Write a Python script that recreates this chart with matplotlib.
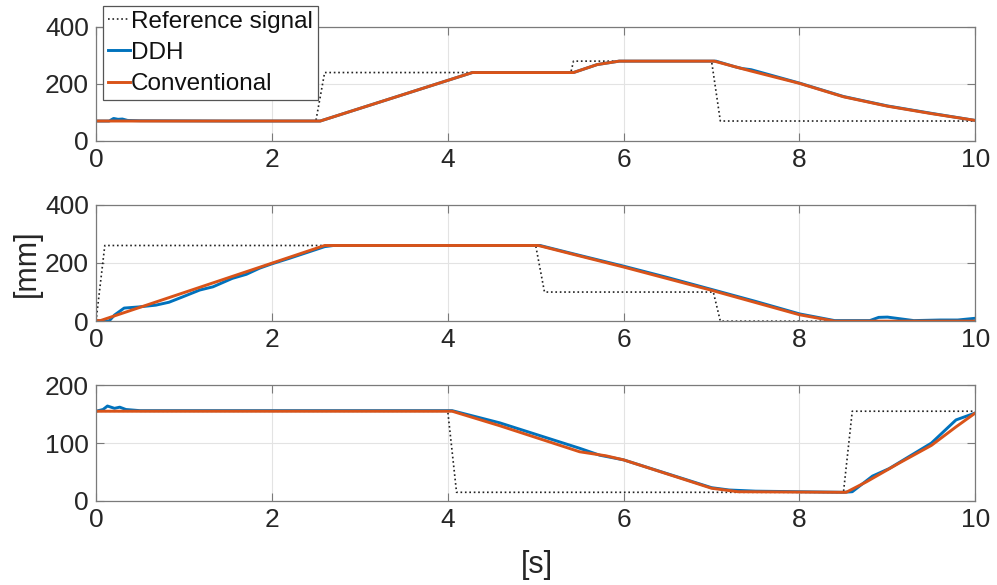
import matplotlib
matplotlib.use("Agg")
import matplotlib.pyplot as plt

plt.rcParams['font.family'] = ['Liberation Sans', 'DejaVu Sans']

# ---- Panel 1 ----
ref1_t = [0, 2.5, 2.6, 5.4, 5.43, 7.0, 7.1, 10]
ref1_y = [70, 70, 240, 240, 280, 280, 70, 70]
ddh1_t = [0, 0.15, 0.2, 0.25, 0.3, 0.36, 0.5, 1.5, 2.55, 4.28, 5.43, 5.7, 5.95,
          7.05, 7.27, 7.35, 7.45, 8.0, 8.5, 9.0, 9.5, 10]
ddh1_y = [70, 70, 79, 76, 77, 72, 71, 70, 70, 240, 240, 268, 280,
          280, 260, 254, 250, 203, 156, 123, 97, 72]
conv1_t = [0, 2.55, 4.28, 5.43, 5.7, 5.95, 7.03, 7.27, 7.44, 8.0, 8.5, 9.0, 9.5, 10]
conv1_y = [70, 70, 240, 240, 268, 280, 280, 260, 246, 202, 155, 122, 96, 72]

# ---- Panel 2 ----
ref2_t = [0, 0.1, 5.0, 5.1, 7.02, 7.1, 10]
ref2_y = [0, 260, 260, 100, 100, 0, 0]
ddh2_t = [0, 0.1, 0.15, 0.21, 0.32, 0.49, 0.68, 0.83, 0.99, 1.18, 1.33, 1.55, 1.71,
          1.86, 2.0, 2.2, 2.43, 2.6, 2.7, 5.05, 5.5, 6.0, 6.5, 7.0, 7.5, 8.0, 8.4,
          8.8, 8.9, 9.0, 9.1, 9.3, 9.6, 9.8, 10]
ddh2_y = [2, 0, 1, 21, 45, 49, 55, 65, 84, 107, 118, 147, 161,
          182, 197, 216, 239, 256, 260, 260, 226, 189, 150, 109, 68, 25, 2,
          2, 13, 14, 10, 2, 4, 4, 10]
conv2_t = [0, 0.05, 2.6, 5.03, 5.5, 6.0, 6.5, 7.0, 7.5, 8.0, 8.4, 10]
conv2_y = [2, 2, 260, 260, 224, 186, 146, 106, 64, 22, 0, 0]

# ---- Panel 3 ----
ref3_t = [0, 4.0, 4.1, 8.5, 8.6, 10]
ref3_y = [155, 155, 15, 15, 155, 155]
ddh3_t = [0, 0.08, 0.13, 0.21, 0.27, 0.34, 0.5, 4.05, 4.59, 5.5, 5.73, 6.0, 7.0,
          7.2, 7.5, 8.5, 8.6, 8.83, 9.02, 9.5, 9.78, 10]
ddh3_y = [155, 158, 164, 160, 162, 158, 156, 156, 135, 91, 79, 71, 23,
          19, 17, 15, 16, 43, 56, 100, 140, 152]
conv3_t = [0, 4.05, 4.59, 5.5, 5.8, 6.0, 7.0, 7.3, 8.53, 8.76, 9.14, 9.5, 9.78, 10]
conv3_y = [155, 155, 130, 85, 78, 71, 22, 16, 15, 33, 66, 96, 128, 152]

x_ticks = [0, 2, 4, 6, 8, 10]

panels = [
    (ref1_t, ref1_y, ddh1_t, ddh1_y, conv1_t, conv1_y, [0, 200, 400], 400),
    (ref2_t, ref2_y, ddh2_t, ddh2_y, conv2_t, conv2_y, [0, 200, 400], 400),
    (ref3_t, ref3_y, ddh3_t, ddh3_y, conv3_t, conv3_y, [0, 100, 200], 200),
]

blue = '#0072BD'
orange = '#D95319'
axis_col = '#7a7a7a'
text_col = '#262626'

fig = plt.figure(figsize=(9.97, 5.85), dpi=100)
boxes = [(0.0963, 0.759, 0.882, 0.195),
         (0.0963, 0.451, 0.882, 0.199),
         (0.0963, 0.1436, 0.882, 0.198)]

axes = []
for box, (rt, ry, dt, dy, ct, cy, yt, ymax) in zip(boxes, panels):
    ax = fig.add_axes(box)
    ax.plot(rt, ry, color='#222222', linestyle=':', linewidth=1.2, label='Reference signal')
    ax.plot(dt, dy, color=blue, linewidth=2.1, label='DDH')
    ax.plot(ct, cy, color=orange, linewidth=2.1, label='Conventional')
    ax.set_xlim(0, 10)
    ax.set_ylim(0, ymax)
    ax.set_xticks(x_ticks)
    ax.set_yticks(yt)
    ax.grid(True, color='#e3e3e3', linewidth=0.8)
    ax.set_axisbelow(True)
    ax.tick_params(direction='in', length=6, width=0.8, top=True, right=True,
                   labelsize=19, colors=axis_col, labelcolor=text_col, pad=5)
    for s in ax.spines.values():
        s.set_color(axis_col)
        s.set_linewidth(0.9)
    axes.append(ax)

leg = axes[0].legend(loc='upper left', bbox_to_anchor=(0.008, 1.185), fontsize=17.5,
                     handlelength=0.9, handletextpad=0.06, borderpad=0.2,
                     labelspacing=0.38, borderaxespad=0.0, fancybox=False,
                     framealpha=1.0)
leg.get_frame().set_edgecolor('#555555')
leg.get_frame().set_linewidth(0.9)
for t in leg.get_texts():
    t.set_color('#111111')

fig.text(0.027, 0.55, '[mm]', rotation=90, fontsize=22, color=text_col,
         ha='center', va='center')
fig.text(0.539, 0.034, '[s]', fontsize=22, color=text_col, ha='center', va='center')

fig.savefig('out.png', dpi=100)
